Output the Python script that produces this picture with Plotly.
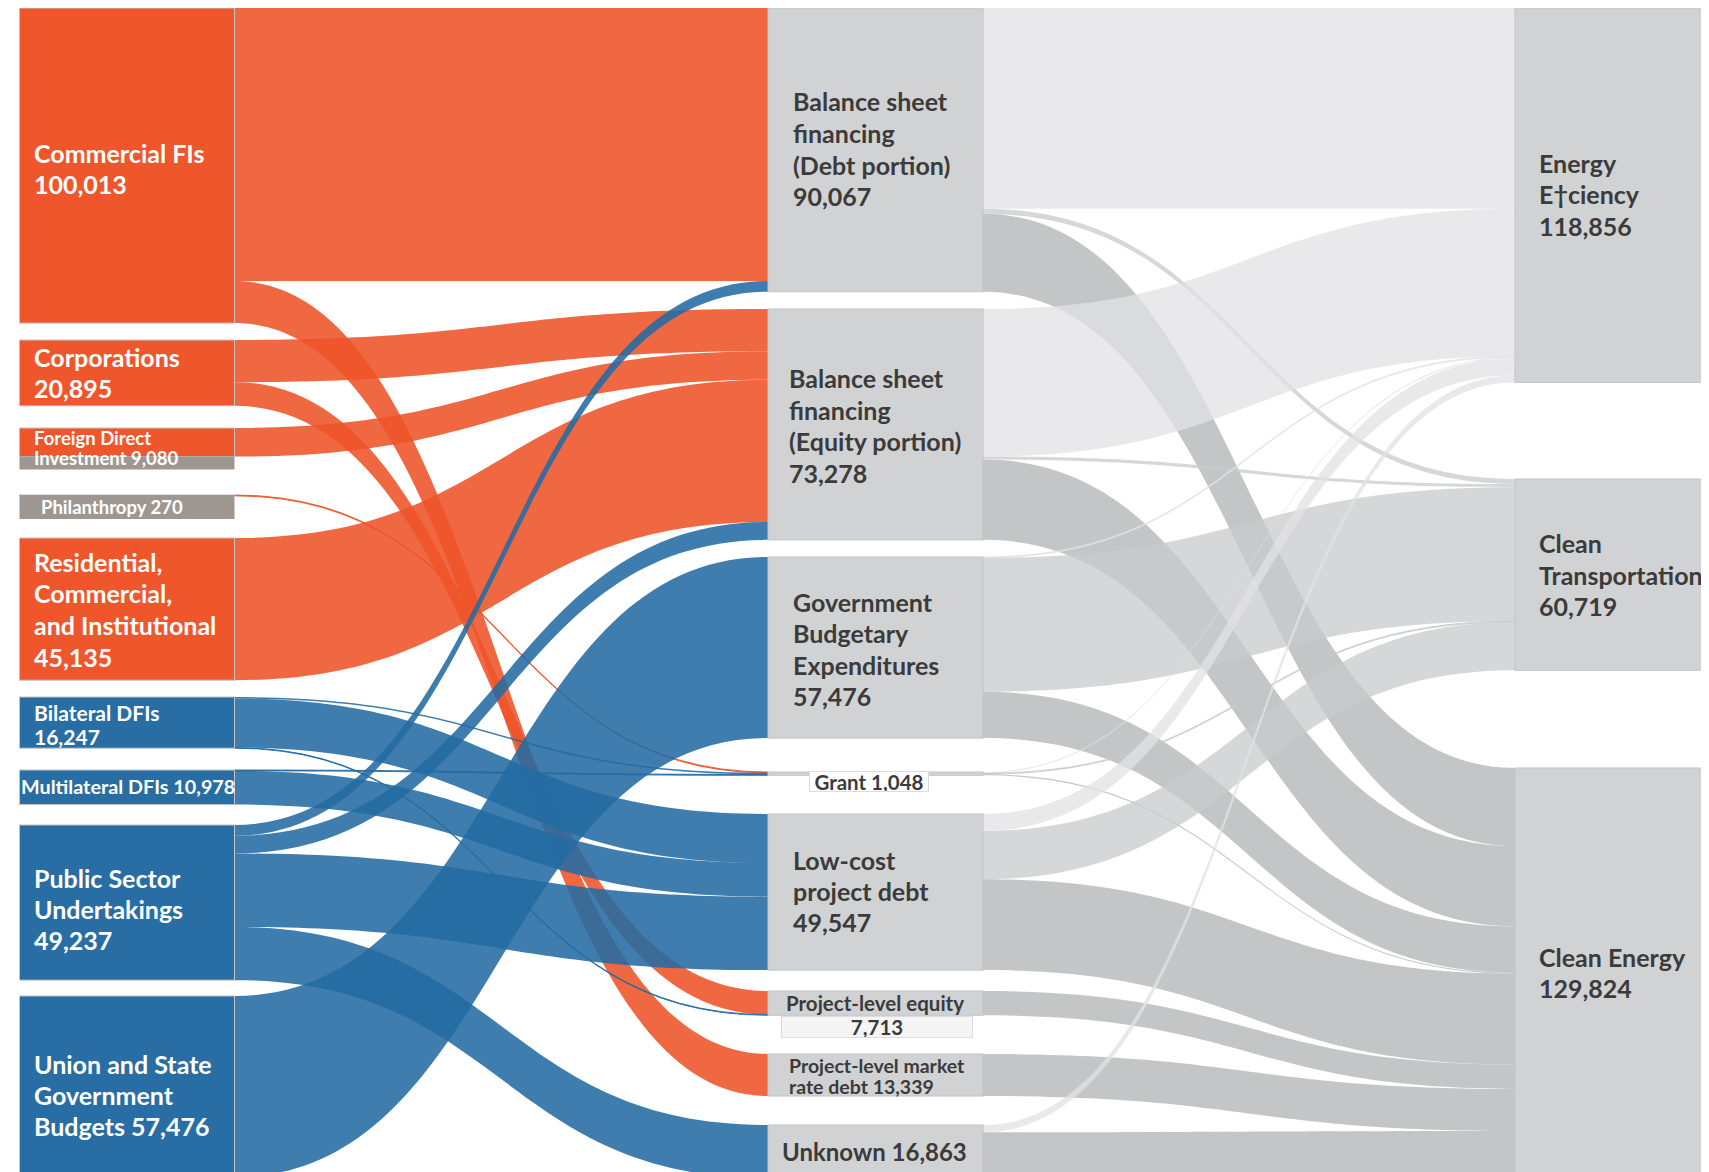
import plotly.graph_objects as go

# ---------------- data ----------------
node_names = [
    "Commercial FIs", "Corporations", "Foreign Direct Investment", "Philanthropy",
    "Residential, Commercial, and Institutional", "Bilateral DFIs", "Multilateral DFIs",
    "Public Sector Undertakings", "Union and State Government Budgets",
    "Balance sheet financing (Debt portion)", "Balance sheet financing (Equity portion)",
    "Government Budgetary Expenditures", "Grant", "Low-cost project debt",
    "Project-level equity", "Project-level market rate debt", "Unknown",
    "Energy E†ciency", "Clean Transportation", "Clean Energy",
]
node_totals = [100013, 20895, 9080, 270, 45135, 16247, 10978, 49237, 57476,
               90067, 73278, 57476, 1048, 49547, 7713, 13339, 16863,
               118856, 60719, 129824]

# label lines as printed on the chart ({v} = node total)
node_label_lines = [
    ["Commercial FIs", "{v}"],
    ["Corporations", "{v}"],
    ["Foreign Direct", "Investment {v}"],
    ["Philanthropy {v}"],
    ["Residential,", "Commercial,", "and Institutional", "{v}"],
    ["Bilateral DFIs", "{v}"],
    ["Multilateral DFIs {v}"],
    ["Public Sector", "Undertakings", "{v}"],
    ["Union and State", "Government", "Budgets {v}"],
    ["Balance sheet", "financing", "(Debt portion)", "{v}"],
    ["Balance sheet", "financing", "(Equity portion)", "{v}"],
    ["Government", "Budgetary", "Expenditures", "{v}"],
    ["Grant {v}"],
    ["Low-cost", "project debt", "{v}"],
    ["Project-level equity", "{v}"],
    ["Project-level market", "rate debt {v}"],
    ["Unknown {v}"],
    ["Energy", "E†ciency", "{v}"],
    ["Clean", "Transportation", "{v}"],
    ["Clean Energy", "{v}"],
]

link_source = [0, 0, 1, 1, 2, 3, 4, 5, 5, 5, 6, 6, 7, 7, 7, 7, 8,
               9, 9, 9, 10, 10, 10, 11, 11, 11, 12, 12, 12, 13, 13, 13, 14, 15, 16, 16]
link_target = [9, 15, 10, 14, 10, 12, 10, 12, 13, 14, 12, 13, 9, 10, 13, 16, 11,
               17, 18, 19, 17, 18, 19, 17, 18, 19, 17, 18, 19, 17, 18, 19, 19, 19, 17, 19]
link_value = [86674, 13339, 13400, 7495, 9080, 270, 45135, 500, 15529, 218, 278, 10700,
              3393, 5663, 23318, 16863, 57476,
              63700, 1600, 24767, 46800, 1000, 25478, 300, 42476, 14700,
              400, 300, 348, 5356, 15343, 28848, 7713, 13339, 2300, 14563]

# ---------------- style / layout ----------------
PAGE_W = 1709
OFF = 8                 # default body margin of the html page
FIG_W = PAGE_W - OFF
PLOT_TOP = 6            # page y where chart starts
PLOT_H = 1169
THICK = 215
PAD = 24.3

ORANGE = "#F0562B"
BLUE = "#286EA4"
GRAYNODE = "#D1D2D4"
TAUPE = "#9E9791"
WHITE = "#FFFFFF"
DARK = "#3B3B3B"
FONT = "Lato"

column_of_node = [0] * 9 + [1] * 8 + [2] * 3
column_center_x = [127, 875.5, 1622.5]
node_top = [6, 338, 426, 493, 536, 695, 768, 823, 994,
            6, 307, 555, 770, 812, 989, 1052, 1123,
            6, 477, 766]
node_colors = [ORANGE, ORANGE, ORANGE, TAUPE, ORANGE, BLUE, BLUE, BLUE, BLUE] + [GRAYNODE] * 11
node_line_widths = [0] * 9 + [0.8] * 11

link_orange = "rgba(238,83,40,0.88)"
link_blue = "rgba(35,107,163,0.88)"
target_gray = {17: "rgba(225,225,228,0.75)", 18: "rgba(200,201,204,0.75)", 19: "rgba(176,177,180,0.75)"}

n = len(node_names)
inflow = [0] * n
outflow = [0] * n
for s, t, v in zip(link_source, link_target, link_value):
    outflow[s] += v
    inflow[t] += v
node_value = [max(a, b) for a, b in zip(inflow, outflow)]
left_sum = sum(node_value[i] for i in range(n) if column_of_node[i] == 0)
ky = (PLOT_H - 8 * PAD) / left_sum

node_cy = [node_top[i] + node_value[i] * ky / 2 for i in range(n)]
node_x = [(column_center_x[column_of_node[i]] - OFF) / FIG_W for i in range(n)]
node_y = [(node_cy[i] - PLOT_TOP) / PLOT_H for i in range(n)]

link_colors = []
for s, t in zip(link_source, link_target):
    if column_of_node[s] == 0:
        link_colors.append(link_orange if node_colors[s] in (ORANGE, TAUPE) else link_blue)
    else:
        link_colors.append(target_gray[t])

fig = go.Figure(go.Sankey(
    arrangement="fixed",
    domain=dict(x=[0, 1], y=[0, 1]),
    node=dict(
        label=[""] * n,
        customdata=node_names,
        hovertemplate="%{customdata}: %{value:,}<extra></extra>",
        x=node_x, y=node_y,
        thickness=THICK, pad=PAD,
        color=node_colors,
        line=dict(color="#C3C4C6", width=node_line_widths),
    ),
    link=dict(source=link_source, target=link_target, value=link_value,
              color=link_colors, hoverinfo="none"),
))

# label placement style: node -> (font size, line height, text x on page, dy from node centre, colour, anchor)
label_style = {
    0: (25, 31, 32, 2.5, WHITE, "left"),
    1: (25, 31, 32, 0, WHITE, "left"),
    2: (18.5, 20, 32, 6, WHITE, "left"),
    3: (18.5, 0, 39, 12, WHITE, "left"),
    4: (25, 31.7, 32, 0, WHITE, "left"),
    5: (21, 24, 32, 1.5, WHITE, "left"),
    6: (19.8, 0, 18.5, -1, WHITE, "left"),
    7: (25, 31, 32, 6, WHITE, "left"),
    8: (25, 31, 32, 8.5, WHITE, "left"),
    9: (25, 31.7, 791, -1, DARK, "left"),
    10: (25, 31.7, 787, 1, DARK, "left"),
    11: (25, 31.5, 791, 1.5, DARK, "left"),
    13: (25, 31, 791, -1, DARK, "left"),
    15: (19.5, 21, 787, 1, DARK, "left"),
    16: (24, 0, 780, 0, DARK, "left"),
    17: (25, 31.7, 1537, -1, DARK, "left"),
    18: (25, 31.5, 1537, 0, DARK, "left"),
    19: (25, 31, 1537, 0, DARK, "left"),
}


def px_to_paper(xp, yp):
    return (xp - OFF) / FIG_W, 1 - (yp - PLOT_TOP) / PLOT_H


annotations = []
for i, (size, lh, xp, dy, col, anc) in label_style.items():
    lines = [ln.replace("{v}", f"{node_totals[i]:,}") for ln in node_label_lines[i]]
    cy = node_cy[i] + dy
    k = len(lines)
    for j, ln in enumerate(lines):
        ly = cy + (j - (k - 1) / 2) * lh
        xx, yy = px_to_paper(xp, ly)
        annotations.append(dict(
            text=ln, x=xx, y=yy, xref="paper", yref="paper",
            xanchor=anc, yanchor="middle", showarrow=False,
            font=dict(family=FONT, size=size, color=col, weight=700),
        ))

# boxed labels: Grant, Project-level equity
grant_txt = node_label_lines[12][0].replace("{v}", f"{node_totals[12]:,}")
gx, gy = px_to_paper(869, node_cy[12] + 8)
annotations.append(dict(text=grant_txt, x=gx, y=gy, xref="paper", yref="paper",
                        xanchor="center", yanchor="middle", showarrow=False,
                        width=118, height=19, bgcolor="white", bordercolor="#DCDCDC",
                        borderwidth=1, borderpad=0,
                        font=dict(family=FONT, size=20.5, color=DARK, weight=700)))
ple_lines = [ln.replace("{v}", f"{node_totals[14]:,}") for ln in node_label_lines[14]]
px1, py1 = px_to_paper(875, node_cy[14])
annotations.append(dict(text=ple_lines[0], x=px1, y=py1, xref="paper", yref="paper",
                        xanchor="center", yanchor="middle", showarrow=False,
                        font=dict(family=FONT, size=20.5, color=DARK, weight=700)))
px2, py2 = px_to_paper(876.5, node_cy[14] + 23.5)
annotations.append(dict(text=ple_lines[1], x=px2, y=py2, xref="paper", yref="paper",
                        xanchor="center", yanchor="middle", showarrow=False,
                        width=190, height=20, bgcolor="#F5F5F6", bordercolor="#DCDCDC",
                        borderwidth=1, borderpad=0,
                        font=dict(family=FONT, size=20.5, color=DARK, weight=700)))

# taupe label boxes under Foreign Direct Investment and Philanthropy
lx0 = column_center_x[0] - THICK / 2
lx1 = column_center_x[0] + THICK / 2
fdi_bottom = node_top[2] + node_value[2] * ky
shapes = []
for y0p, y1p in [(fdi_bottom, fdi_bottom + 13), (node_top[3], node_top[3] + 24)]:
    x0, yy0 = px_to_paper(lx0, y0p)
    x1, yy1 = px_to_paper(lx1, y1p)
    shapes.append(dict(type="rect", xref="paper", yref="paper", x0=x0, x1=x1, y0=yy1, y1=yy0,
                       fillcolor=TAUPE, line=dict(width=0), layer="above"))

fig.update_layout(
    width=FIG_W, height=PLOT_H,
    margin=dict(l=0, r=0, t=0, b=0),
    paper_bgcolor="white", plot_bgcolor="white",
    annotations=annotations, shapes=shapes,
    font=dict(family=FONT),
)

fig.write_html("out.html")
